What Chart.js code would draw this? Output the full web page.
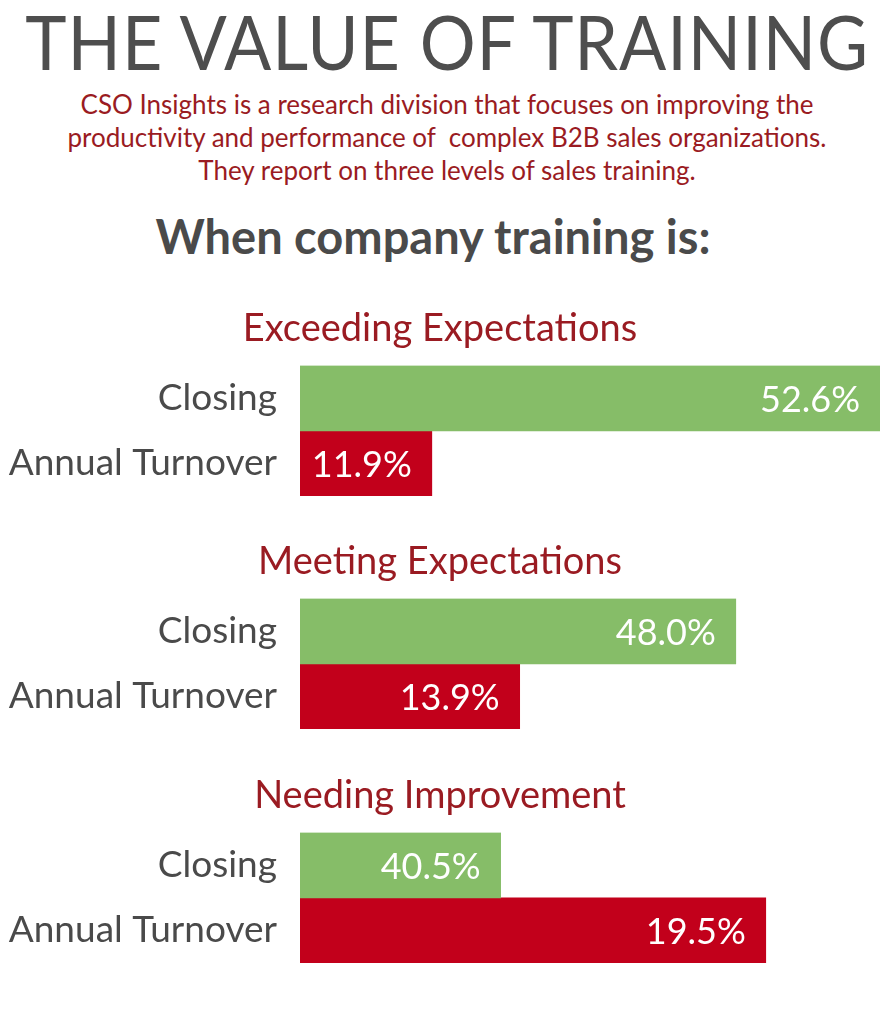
<!DOCTYPE html>
<html>
<head>
<meta charset="utf-8">
<script src="https://cdn.jsdelivr.net/npm/chart.js@4/dist/chart.umd.min.js"></script>
<style>
  body { margin: 0; background: #fff; width: 894px; height: 1024px; position: relative; overflow: hidden; font-family: Lato, sans-serif; }
  .title { position: absolute; left: -50px; width: 994px; top: 3px; text-align: center; font-size: 76px; line-height: 1; color: #4e4e4e; white-space: nowrap; letter-spacing: 1px; transform: scaleX(0.92); transform-origin: 499px 0; }
  .intro { position: absolute; left: 0; width: 894px; top: 88px; text-align: center; font-size: 26px; line-height: 33px; color: #9a1b22; }
  .lead { position: absolute; left: -14px; width: 894px; top: 213px; text-align: center; font-size: 47px; line-height: 1; font-weight: 700; color: #4a4a4a; }
  .group { position: absolute; left: 0; width: 894px; height: 190px; }
</style>
</head>
<body>
<div class="title">THE VALUE OF TRAINING</div>
<div class="intro">CSO Insights is a research division that focuses on improving the<br>productivity and performance of&nbsp; complex B2B sales organizations.<br>They report on three levels of sales training.</div>
<div class="lead">When company training is:</div>
<div class="group" style="top:306px"><canvas id="group-0"></canvas></div>
<div class="group" style="top:539px"><canvas id="group-1"></canvas></div>
<div class="group" style="top:773px"><canvas id="group-2"></canvas></div>
<script>
const groups = ['Exceeding Expectations', 'Meeting Expectations', 'Needing Improvement'];
const rows = ['Closing', 'Annual Turnover'];
const closingData = [52.6, 48.0, 40.5];
const turnoverData = [11.9, 13.9, 19.5];

// bars in the original are not drawn from zero, so each measure gets its own hidden axis
const closingAxis = { min: 34.1, max: 52.6 };
const turnoverAxis = { min: 8.9, max: 22.1 };

const GREEN = '#86bd68';
const RED = '#c2001b';
const DARK_RED = '#9a1b22';
const GREY = '#4a4a4a';

const valueLabels = {
  id: 'valueLabels',
  afterDatasetsDraw(chart) {
    const { ctx } = chart;
    ctx.save();
    ctx.fillStyle = '#fff';
    ctx.font = '36px Lato';
    ctx.textAlign = 'right';
    ctx.textBaseline = 'middle';
    chart.data.datasets.forEach((ds, i) => {
      chart.getDatasetMeta(i).data.forEach((bar, j) => {
        const v = ds.data[j];
        if (v == null) return;
        ctx.fillText(v.toFixed(1) + '%', bar.x - 20, bar.y + 2);
      });
    });
    ctx.restore();
  },
};

const groupChart = (index) => {
  const ctx = document.getElementById('group-' + index).getContext('2d');

  const config = {
    type: 'bar',
    data: {
      labels: rows,
      datasets: [
        {
          label: rows[0],
          data: [closingData[index], null],
          xAxisID: 'xc',
          backgroundColor: GREEN,
          borderWidth: 0,
          grouped: false,
          barPercentage: 1,
          categoryPercentage: 1,
        },
        {
          label: rows[1],
          data: [null, turnoverData[index]],
          xAxisID: 'xt',
          backgroundColor: RED,
          borderWidth: 0,
          grouped: false,
          barPercentage: 1,
          categoryPercentage: 1,
        },
      ],
    },
    options: {
      indexAxis: 'y',
      animation: false,
      responsive: true,
      maintainAspectRatio: false,
      layout: { padding: { left: 0, right: 14, top: 0, bottom: 0 } },
      plugins: {
        legend: { display: false },
        tooltip: { enabled: false },
        title: {
          display: true,
          text: groups[index],
          color: DARK_RED,
          font: { size: 38, family: 'Lato', weight: 'normal' },
          padding: { top: 0, bottom: 14 },
        },
      },
      scales: {
        xc: { type: 'linear', display: false, min: closingAxis.min, max: closingAxis.max },
        xt: { type: 'linear', display: false, min: turnoverAxis.min, max: turnoverAxis.max },
        y: {
          grid: { display: false },
          border: { display: false },
          ticks: {
            color: GREY,
            font: { size: 37, family: 'Lato' },
            padding: 15,
            autoSkip: false,
          },
          afterFit: (scale) => {
            scale.width = 300;
            scale.paddingTop = 0;
            scale.paddingBottom = 0;
          },
        },
      },
    },
    plugins: [valueLabels],
  };

  new Chart(ctx, config);
};

groups.forEach((g, i) => groupChart(i));
</script>
</body>
</html>
